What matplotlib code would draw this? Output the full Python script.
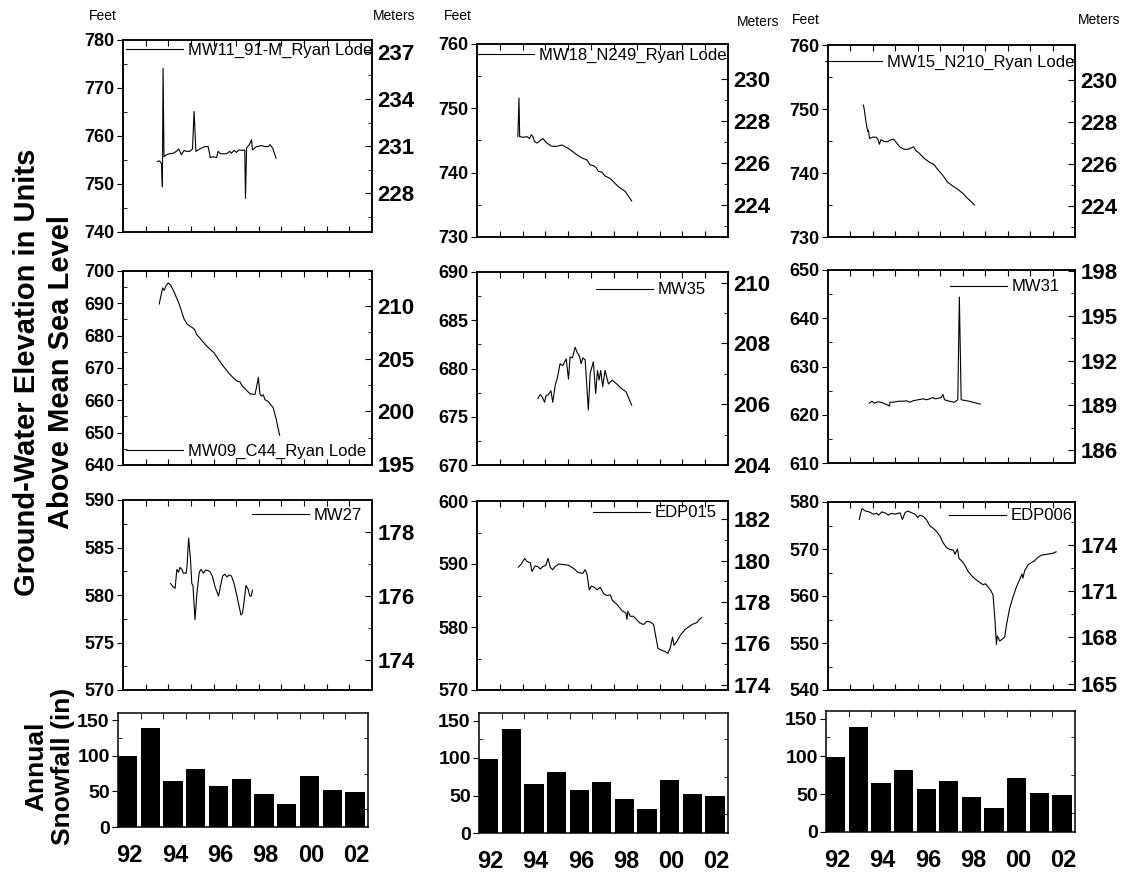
import matplotlib
matplotlib.use("Agg")
import matplotlib.pyplot as plt
from matplotlib.ticker import MultipleLocator, FixedLocator, NullFormatter

plt.rcParams['font.family'] = ['Liberation Sans', 'DejaVu Sans']
plt.rcParams['font.weight'] = 'bold'
plt.rcParams['axes.linewidth'] = 1.1

W, H = 1128, 877

# annual snowfall (inches)
snow_years = [1992, 1993, 1994, 1995, 1996, 1997, 1998, 1999, 2000, 2001, 2002]
snow_in = [99, 139, 65, 82, 57, 68, 46, 32, 71, 52, 49]
year_ticks = [1992, 1994, 1996, 1998, 2000, 2002]
year_labels = ['92', '94', '96', '98', '00', '02']

# ground-water elevation in feet, time in decimal years
mw11_yr = [1993.02, 1993.12, 1993.20, 1993.24, 1993.27, 1993.31, 1993.42, 1993.56, 1993.71, 1993.86,
           1993.96, 1994.08, 1994.20, 1994.30, 1994.45, 1994.57, 1994.64, 1994.72, 1994.89, 1995.11,
           1995.26, 1995.36, 1995.48, 1995.63, 1995.70, 1995.81, 1996.07, 1996.22, 1996.29, 1996.40,
           1996.51, 1996.63, 1996.81, 1996.88, 1996.91, 1996.96, 1997.08, 1997.18, 1997.22, 1997.40,
           1997.62, 1997.77, 1997.92, 1997.99, 1998.11, 1998.26]
mw11_ft = [754.7, 754.8, 754.2, 749.4, 774.1, 755.7, 756.1, 756.3, 756.4, 756.8,
           757.3, 756.1, 757.0, 756.8, 756.8, 757.3, 765.1, 756.8, 757.3, 757.8,
           757.8, 755.5, 755.7, 755.5, 756.8, 756.3, 756.3, 756.8, 756.4, 757.0,
           756.6, 757.1, 757.0, 757.1, 747.0, 757.5, 758.2, 759.2, 757.1, 757.8,
           758.0, 757.8, 757.8, 758.2, 757.5, 755.4]

mw18_yr = [1993.29, 1993.34, 1993.37, 1993.54, 1993.69, 1993.80, 1993.88, 1993.95, 1994.01, 1994.12,
           1994.24, 1994.39, 1994.56, 1994.78, 1995.00, 1995.22, 1995.44, 1995.65, 1995.87, 1996.09,
           1996.31, 1996.46, 1996.60, 1996.72, 1996.82, 1996.97, 1997.11, 1997.33, 1997.48, 1997.70,
           1997.99, 1998.28]
mw18_ft = [745.6, 751.6, 745.6, 745.5, 745.6, 745.3, 745.9, 745.6, 744.9, 744.6,
           744.9, 745.3, 744.6, 744.1, 744.1, 744.3, 743.9, 743.4, 742.8, 742.3,
           742.0, 741.2, 741.1, 740.8, 740.2, 740.1, 739.5, 739.1, 738.6, 737.8,
           737.1, 735.6]

mw15_yr = [1993.08, 1993.12, 1993.20, 1993.27, 1993.30, 1993.35, 1993.49, 1993.64, 1993.72, 1993.79,
           1993.86, 1994.01, 1994.16, 1994.31, 1994.42, 1994.53, 1994.72, 1994.90, 1995.05, 1995.19,
           1995.31, 1995.41, 1995.56, 1995.78, 1996.01, 1996.23, 1996.37, 1996.60, 1996.82, 1997.04,
           1997.26, 1997.48, 1997.70, 1998.03]
mw15_ft = [750.6, 749.8, 747.8, 746.5, 746.7, 745.4, 745.6, 745.6, 745.3, 744.5,
           745.2, 744.9, 744.9, 745.2, 745.3, 744.8, 744.0, 743.7, 743.7, 743.9,
           744.1, 743.5, 743.1, 742.3, 741.7, 741.3, 740.6, 739.7, 738.6, 738.0,
           737.5, 736.9, 736.1, 735.0]

mw09_yr = [1993.10, 1993.25, 1993.32, 1993.40, 1993.50, 1993.61, 1993.76, 1993.98, 1994.20, 1994.34,
           1994.56, 1994.66, 1994.75, 1994.93, 1995.14, 1995.36, 1995.51, 1995.73, 1995.95, 1996.16,
           1996.38, 1996.53, 1996.67, 1996.75, 1996.89, 1997.11, 1997.33, 1997.40, 1997.48, 1997.55,
           1997.62, 1997.70, 1997.77, 1997.91, 1998.06, 1998.13, 1998.25, 1998.42]
mw09_ft = [689.8, 694.8, 694.0, 695.4, 696.3, 695.6, 693.5, 689.8, 685.1, 683.5,
           682.5, 681.9, 680.4, 679.0, 677.2, 675.7, 674.8, 672.5, 670.4, 668.5,
           666.9, 666.0, 665.7, 664.6, 663.6, 662.0, 661.8, 664.1, 667.1, 662.0,
           661.3, 661.7, 660.2, 659.7, 658.3, 657.8, 654.7, 649.2]

mw35_yr = [1994.17, 1994.27, 1994.37, 1994.46, 1994.53, 1994.63, 1994.74, 1994.82, 1994.93, 1995.03,
           1995.14, 1995.26, 1995.41, 1995.51, 1995.58, 1995.68, 1995.80, 1995.90, 1995.99, 1996.06,
           1996.14, 1996.24, 1996.38, 1996.46, 1996.60, 1996.70, 1996.78, 1996.85, 1996.92, 1997.01,
           1997.11, 1997.26, 1997.43, 1997.62, 1997.84, 1998.03, 1998.28]
mw35_ft = [676.9, 677.3, 677.0, 676.5, 677.2, 677.3, 677.7, 676.5, 678.3, 679.1,
           680.5, 680.3, 681.0, 678.9, 681.2, 681.1, 682.2, 681.6, 681.3, 680.5,
           681.1, 680.9, 675.7, 679.5, 680.7, 677.4, 679.8, 678.8, 679.8, 678.1,
           679.8, 678.4, 678.8, 678.4, 677.9, 677.6, 676.2]

mw31_yr = [1993.34, 1993.46, 1993.56, 1993.75, 1993.90, 1994.12, 1994.24, 1994.26, 1994.41, 1994.63,
           1994.85, 1995.00, 1995.15, 1995.29, 1995.51, 1995.74, 1995.88, 1996.03, 1996.18, 1996.25,
           1996.40, 1996.54, 1996.62, 1996.69, 1996.91, 1997.13, 1997.28, 1997.35, 1997.43, 1997.79,
           1998.28]
mw31_ft = [622.4, 622.8, 622.4, 622.7, 622.5, 622.1, 621.8, 622.6, 622.6, 622.8,
           622.8, 622.9, 622.6, 622.9, 623.1, 623.3, 623.1, 623.3, 623.6, 623.3,
           623.4, 623.6, 624.2, 623.1, 622.8, 622.6, 623.1, 644.4, 623.1, 622.8,
           622.2]

mw27_yr = [1993.60, 1993.70, 1993.80, 1993.88, 1993.95, 1994.02, 1994.10, 1994.17, 1994.29, 1994.33,
           1994.40, 1994.48, 1994.54, 1994.59, 1994.68, 1994.77, 1994.87, 1994.95, 1995.05, 1995.14,
           1995.24, 1995.36, 1995.46, 1995.56, 1995.72, 1995.90, 1996.00, 1996.09, 1996.19, 1996.29,
           1996.41, 1996.56, 1996.71, 1996.78, 1996.85, 1996.93, 1997.03, 1997.10, 1997.17, 1997.22]
mw27_ft = [581.2, 580.9, 580.7, 582.7, 582.4, 582.9, 582.7, 582.3, 582.3, 583.1,
           586.0, 583.8, 581.2, 581.0, 577.4, 580.3, 582.4, 582.7, 582.3, 582.6,
           582.6, 582.4, 581.9, 580.9, 579.9, 582.0, 582.2, 581.9, 582.1, 582.0,
           581.2, 579.6, 577.9, 578.1, 579.3, 581.0, 580.6, 579.9, 579.9, 580.5]

edp015_yr = [1993.32, 1993.44, 1993.59, 1993.69, 1993.84, 1993.91, 1994.05, 1994.17, 1994.27, 1994.39,
             1994.52, 1994.61, 1994.71, 1994.81, 1994.93, 1995.08, 1995.30, 1995.51, 1995.73, 1995.92,
             1996.13, 1996.24, 1996.32, 1996.42, 1996.51, 1996.65, 1996.76, 1996.90, 1997.05, 1997.19,
             1997.34, 1997.44, 1997.63, 1997.85, 1998.03, 1998.07, 1998.11, 1998.22, 1998.36, 1998.51,
             1998.65, 1998.80, 1998.95, 1999.09, 1999.24, 1999.43, 1999.60, 1999.75, 1999.86, 1999.97,
             2000.07, 2000.13, 2000.26, 2000.41, 2000.62, 2000.77, 2000.92, 2001.14, 2001.24, 2001.35]
edp015_ft = [589.5, 590.0, 590.9, 590.4, 590.2, 588.8, 589.7, 589.6, 589.2, 589.6,
             589.8, 590.9, 589.5, 589.1, 589.6, 590.0, 589.9, 589.8, 589.3, 588.7,
             588.5, 589.1, 588.4, 585.9, 586.5, 586.3, 585.9, 586.3, 585.3, 585.0,
             585.1, 584.2, 583.6, 582.6, 582.2, 581.2, 582.5, 581.7, 581.7, 581.1,
             580.6, 580.4, 580.9, 580.8, 580.4, 576.6, 576.3, 576.1, 575.8, 576.7,
             578.4, 577.1, 577.7, 578.7, 579.6, 580.0, 580.4, 580.7, 581.2, 581.5]

edp006_yr = [1992.89, 1993.01, 1993.16, 1993.33, 1993.53, 1993.67, 1993.75, 1993.90, 1994.04, 1994.19,
             1994.31, 1994.49, 1994.71, 1994.81, 1994.93, 1995.05, 1995.23, 1995.38, 1995.49, 1995.60,
             1995.75, 1995.89, 1996.04, 1996.19, 1996.34, 1996.49, 1996.63, 1996.78, 1996.93, 1997.08,
             1997.15, 1997.27, 1997.33, 1997.45, 1997.59, 1997.74, 1997.96, 1998.19, 1998.41, 1998.51,
             1998.63, 1998.75, 1998.85, 1998.93, 1999.00, 1999.04, 1999.15, 1999.25, 1999.37, 1999.44,
             1999.59, 1999.74, 1999.89, 2000.08, 2000.14, 2000.18, 2000.26, 2000.41, 2000.55, 2000.70,
             2000.85, 2001.00, 2001.29, 2001.51, 2001.66]
edp006_ft = [576.3, 578.6, 578.1, 577.9, 577.4, 577.6, 577.2, 577.9, 577.7, 577.2,
             577.6, 577.4, 577.7, 576.3, 577.7, 578.1, 577.7, 577.4, 576.7, 577.2,
             576.9, 576.2, 574.9, 574.4, 573.7, 572.7, 571.3, 570.3, 569.9, 569.8,
             568.9, 570.0, 568.0, 567.5, 566.6, 565.2, 564.0, 563.1, 562.4, 562.6,
             561.9, 561.2, 560.2, 555.3, 549.7, 551.5, 550.4, 550.8, 551.3, 553.6,
             557.4, 559.8, 561.9, 564.0, 564.7, 563.8, 565.4, 566.6, 567.1, 567.5,
             568.2, 568.7, 568.9, 569.1, 569.4]


def rect(l, t, r, b):
    return [l / W, 1 - b / H, (r - l) / W, (b - t) / H]


year_edges = [1992.5 + i for i in range(10)]

# yr, ft, name, box (px l,t,r,b), feet lim, feet step, meters lim, meters step, legend anchor
panels = [
    (mw11_yr, mw11_ft, 'MW11_91-M_Ryan Lode', (123, 40, 372, 232), (740, 780), 10, (225.55, 237.74), 3, (1.0, 0.948)),
    (mw18_yr, mw18_ft, 'MW18_N249_Ryan Lode', (477, 44, 728, 237), (730, 760), 10, (222.50, 231.65), 2, (0.996, 0.943)),
    (mw15_yr, mw15_ft, 'MW15_N210_Ryan Lode', (828, 45, 1075, 237), (730, 760), 10, (222.50, 231.65), 2, (0.996, 0.911)),
    (mw09_yr, mw09_ft, 'MW09_C44_Ryan Lode', (123, 271, 372, 465), (640, 700), 10, (194.9, 213.3), 5, (0.976, 0.072)),
    (mw35_yr, mw35_ft, 'MW35', (477, 272, 728, 465), (670, 690), 5, (204.0, 210.35), 2, (0.912, 0.907)),
    (mw31_yr, mw31_ft, 'MW31', (828, 270, 1075, 463), (610, 650), 10, (185.15, 198.05), 3, (0.939, 0.912)),
    (mw27_yr, mw27_ft, 'MW27', (123, 500, 372, 690), (570, 590), 5, (173.05, 179.0), 2, (0.96, 0.921)),
    (edp015_yr, edp015_ft, 'EDP015', (477, 501, 728, 690), (570, 600), 10, (173.74, 182.88), 2, (0.956, 0.937)),
    (edp006_yr, edp006_ft, 'EDP006', (828, 502, 1075, 690), (540, 580), 10, (164.59, 176.78), 3, (0.992, 0.926)),
]

bar_boxes = [(118, 713, 368, 827), (479, 713, 728, 833), (826, 711, 1075, 832)]

fig = plt.figure(figsize=(W / 100, H / 100), dpi=100)

for yr, ft, name, box, ylim, ystep, mlim, mstep, anchor in panels:
    ax = fig.add_axes(rect(*box))
    ax.plot(yr, ft, color='black', lw=0.8, label=name)
    ax.set_xlim(1991.5, 2002.5)
    ax.set_ylim(*ylim)
    ax.xaxis.set_major_locator(FixedLocator(year_edges))
    ax.xaxis.set_major_formatter(NullFormatter())
    ax.tick_params(axis='x', top=True, direction='in', length=4)
    ax.yaxis.set_major_locator(MultipleLocator(ystep))
    ax.yaxis.set_minor_locator(MultipleLocator(ystep / 2))
    ax.tick_params(axis='y', which='major', direction='out', length=4, labelsize=13, pad=2)
    ax.tick_params(axis='y', which='minor', direction='in', length=3)

    tw = ax.twinx()
    tw.set_ylim(*mlim)
    tw.yaxis.set_major_locator(MultipleLocator(mstep))
    tw.yaxis.set_minor_locator(MultipleLocator(mstep / 2))
    tw.tick_params(axis='y', which='major', direction='in', length=5, labelsize=16, pad=4)
    tw.tick_params(axis='y', which='minor', direction='in', length=3)

    ax.legend(loc='center right', bbox_to_anchor=anchor, frameon=False,
              prop={'size': 12, 'weight': 'normal'}, handlelength=3.4,
              handletextpad=0.3, borderpad=0, borderaxespad=0)

for box in bar_boxes:
    bx = fig.add_axes(rect(*box))
    bx.bar([y - 0.5 for y in snow_years], snow_in, width=0.85, align='edge', color='black')
    bx.set_xlim(1991.5, 2002.5)
    bx.set_ylim(0, 160)
    bx.set_xticks(year_ticks, year_labels)
    bx.set_xticks(year_edges, minor=True)
    bx.tick_params(axis='x', which='major', length=0, labelsize=17, pad=12)
    bx.tick_params(axis='x', which='minor', top=True, direction='in', length=4)
    bx.yaxis.set_major_locator(MultipleLocator(50))
    bx.yaxis.set_minor_locator(MultipleLocator(25))
    bx.tick_params(axis='y', which='major', direction='out', length=4, labelsize=14, pad=2)
    bx.tick_params(axis='y', which='minor', direction='in', length=3, right=True)

# unit labels above each column
for x, y, s in [(103, 16, 'Feet'), (394, 16, 'Meters'), (458, 16, 'Feet'), (758, 22, 'Meters'),
                (806, 20, 'Feet'), (1099, 20, 'Meters')]:
    fig.text(x / W, 1 - y / H, s, fontsize=10, fontweight='normal', ha='center', va='center')

fig.text(44 / W, 1 - 372 / H, 'Ground-Water Elevation in Units\nAbove Mean Sea Level',
         rotation=90, ha='center', va='center', fontsize=21, linespacing=1.25, multialignment='center')
fig.text(50 / W, 1 - 766 / H, 'Annual\nSnowfall (in)', rotation=90, ha='center', va='center',
         fontsize=19, linespacing=1.15, multialignment='center')

fig.savefig('out.png', dpi=100)
